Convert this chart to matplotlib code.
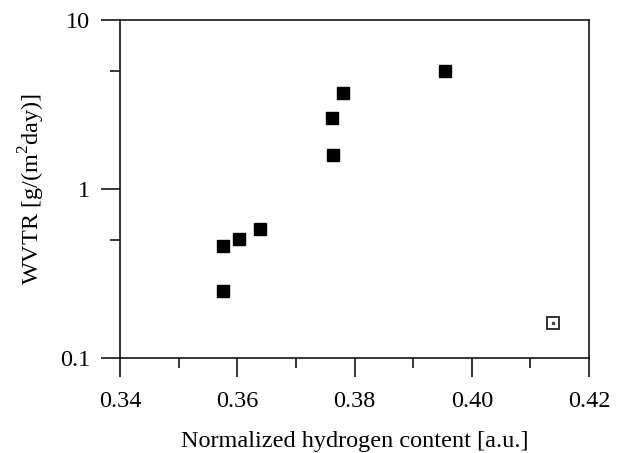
import matplotlib
matplotlib.use("Agg")
from matplotlib import pyplot as plt
from matplotlib.ticker import FixedLocator, NullFormatter

plt.rcParams['font.family'] = ['Liberation Serif', 'DejaVu Serif']
plt.rcParams['mathtext.fontset'] = 'custom'
plt.rcParams['mathtext.rm'] = 'Liberation Serif'

# filled squares
hydrogen = [0.3955, 0.378, 0.3762, 0.3763, 0.3639, 0.3603, 0.3576, 0.3576]
wvtr = [5.01, 3.71, 2.64, 1.60, 0.582, 0.504, 0.462, 0.248]

# open square
hydrogen_open = [0.4138]
wvtr_open = [0.162]

fig = plt.figure(figsize=(6.36, 4.53), dpi=100)
ax = fig.add_axes([0.1887, 0.2097, 0.7374, 0.746])

ax.plot(hydrogen, wvtr, 's', color='black', ms=8, mec='black', ls='none')
ax.plot(hydrogen_open, wvtr_open, 's', ms=8, mfc='white', mec='#222222', mew=1.3, ls='none')
ax.plot(hydrogen_open, wvtr_open, 's', ms=2, color='#444444', ls='none')

ax.set_yscale('log')
ax.set_xlim(0.34, 0.42)
ax.set_ylim(0.1, 10)

ax.set_xticks([0.34, 0.36, 0.38, 0.40, 0.42])
ax.set_xticklabels(['0.34', '0.36', '0.38', '0.40', '0.42'])
ax.xaxis.set_minor_locator(FixedLocator([0.35, 0.37, 0.39, 0.41]))
ax.set_yticks([0.1, 1, 10])
ax.set_yticklabels(['0.1', '1', '10'])
ax.yaxis.set_minor_locator(FixedLocator([0.5, 5]))
ax.yaxis.set_minor_formatter(NullFormatter())

ax.tick_params(which='major', direction='out', length=13.5, width=1.1, labelsize=17.5, top=False, right=False)
ax.tick_params(which='minor', direction='out', length=7, width=1.1, top=False, right=False)
ax.tick_params(axis='y', which='major', pad=8)
ax.tick_params(axis='x', which='major', pad=10)
for s in ax.spines.values():
    s.set_linewidth(1.1)

ax.set_xlabel('Normalized hydrogen content [a.u.]', fontsize=17.5, labelpad=14)
ax.set_ylabel('WVTR [g/(m$^{2}$day)]', fontsize=17.5, labelpad=9)

fig.savefig('out.png', dpi=100)
